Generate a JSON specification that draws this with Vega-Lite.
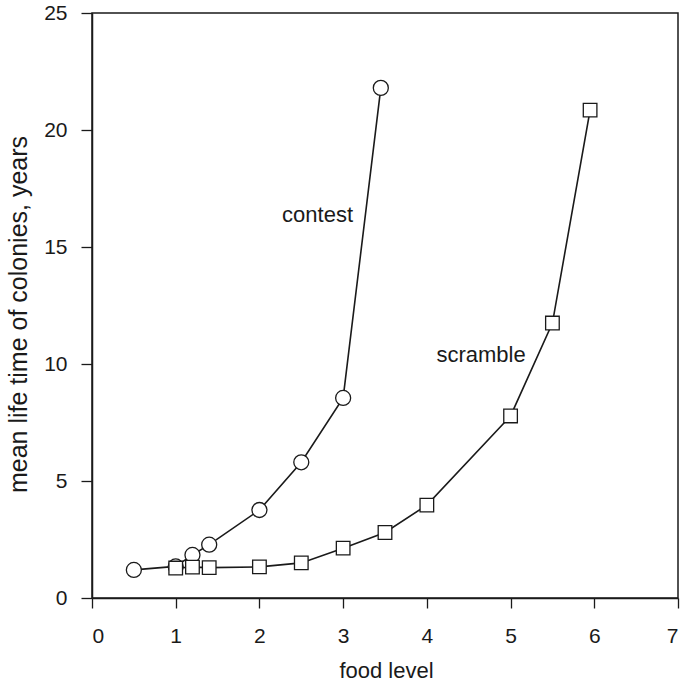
{
  "$schema": "https://vega.github.io/schema/vega-lite/v6.json",
  "width": 586,
  "height": 585,
  "autosize": "none",
  "padding": {"left": 92, "top": 13, "right": 8, "bottom": 86},
  "background": "white",
  "config": {
    "view": {"stroke": "#1a1a1a", "strokeWidth": 1.5},
    "font": "Liberation Sans",
    "axis": {
      "grid": false,
      "domainColor": "#1a1a1a",
      "domainWidth": 1.5,
      "tickColor": "#1a1a1a",
      "tickWidth": 1.3,
      "labelColor": "#1a1a1a",
      "titleColor": "#1a1a1a",
      "labelFont": "Liberation Sans",
      "titleFont": "Liberation Sans",
      "labelFontSize": 21,
      "titleFontWeight": "normal"
    }
  },
  "data": {
    "values": [
      {"series": "contest", "food": 0.5, "life": 1.2},
      {"series": "contest", "food": 1.0, "life": 1.35},
      {"series": "contest", "food": 1.2, "life": 1.84},
      {"series": "contest", "food": 1.4, "life": 2.28},
      {"series": "contest", "food": 2.0, "life": 3.76},
      {"series": "contest", "food": 2.5, "life": 5.8},
      {"series": "contest", "food": 3.0, "life": 8.55},
      {"series": "contest", "food": 3.45, "life": 21.8},
      {"series": "scramble", "food": 1.0, "life": 1.28},
      {"series": "scramble", "food": 1.2, "life": 1.32},
      {"series": "scramble", "food": 1.4, "life": 1.3},
      {"series": "scramble", "food": 2.0, "life": 1.33},
      {"series": "scramble", "food": 2.5, "life": 1.5},
      {"series": "scramble", "food": 3.0, "life": 2.13},
      {"series": "scramble", "food": 3.5, "life": 2.8},
      {"series": "scramble", "food": 4.0, "life": 3.97},
      {"series": "scramble", "food": 5.0, "life": 7.78},
      {"series": "scramble", "food": 5.5, "life": 11.75},
      {"series": "scramble", "food": 5.95, "life": 20.85}
    ]
  },
  "encoding": {
    "x": {
      "field": "food",
      "type": "quantitative",
      "scale": {"domain": [0, 7], "nice": false, "zero": false},
      "axis": {
        "title": "food level",
        "values": [0, 1, 2, 3, 4, 5, 6, 7],
        "tickSize": 10,
        "labelPadding": 34,
        "labelBaseline": "alphabetic",
        "titleFontSize": 22,
        "titleX": 294,
        "titleY": 79,
        "titleBaseline": "alphabetic",
        "titleAlign": "center"
      }
    },
    "y": {
      "field": "life",
      "type": "quantitative",
      "scale": {"domain": [0, 25], "nice": false},
      "axis": {
        "title": "mean life time of colonies, years",
        "values": [0, 5, 10, 15, 20, 25],
        "tickSize": 11,
        "labelPadding": 14,
        "titleFontSize": 25,
        "titleX": -74,
        "titleY": 301,
        "titleAngle": -90,
        "titleBaseline": "middle",
        "titleAlign": "center"
      }
    }
  },
  "layer": [
    {
      "mark": {"type": "line", "color": "#1a1a1a", "strokeWidth": 1.6},
      "encoding": {"detail": {"field": "series"}}
    },
    {
      "transform": [{"filter": "datum.series === 'contest'"}],
      "mark": {"type": "point", "shape": "circle", "filled": true, "fill": "white", "stroke": "#1a1a1a", "strokeWidth": 1.3, "size": 225, "opacity": 1}
    },
    {
      "transform": [{"filter": "datum.series === 'scramble'"}],
      "mark": {"type": "point", "shape": "square", "filled": true, "fill": "white", "stroke": "#1a1a1a", "strokeWidth": 1.3, "size": 185, "opacity": 1}
    },
    {
      "data": {
        "values": [
          {"label": "contest", "lx": 2.694, "ly": 16.07},
          {"label": "scramble", "lx": 4.647, "ly": 10.09}
        ]
      },
      "mark": {"type": "text", "fontSize": 22, "font": "Liberation Sans", "color": "#1a1a1a", "align": "center", "baseline": "alphabetic"},
      "encoding": {
        "x": {"field": "lx", "type": "quantitative"},
        "y": {"field": "ly", "type": "quantitative"},
        "text": {"field": "label"}
      }
    }
  ]
}
